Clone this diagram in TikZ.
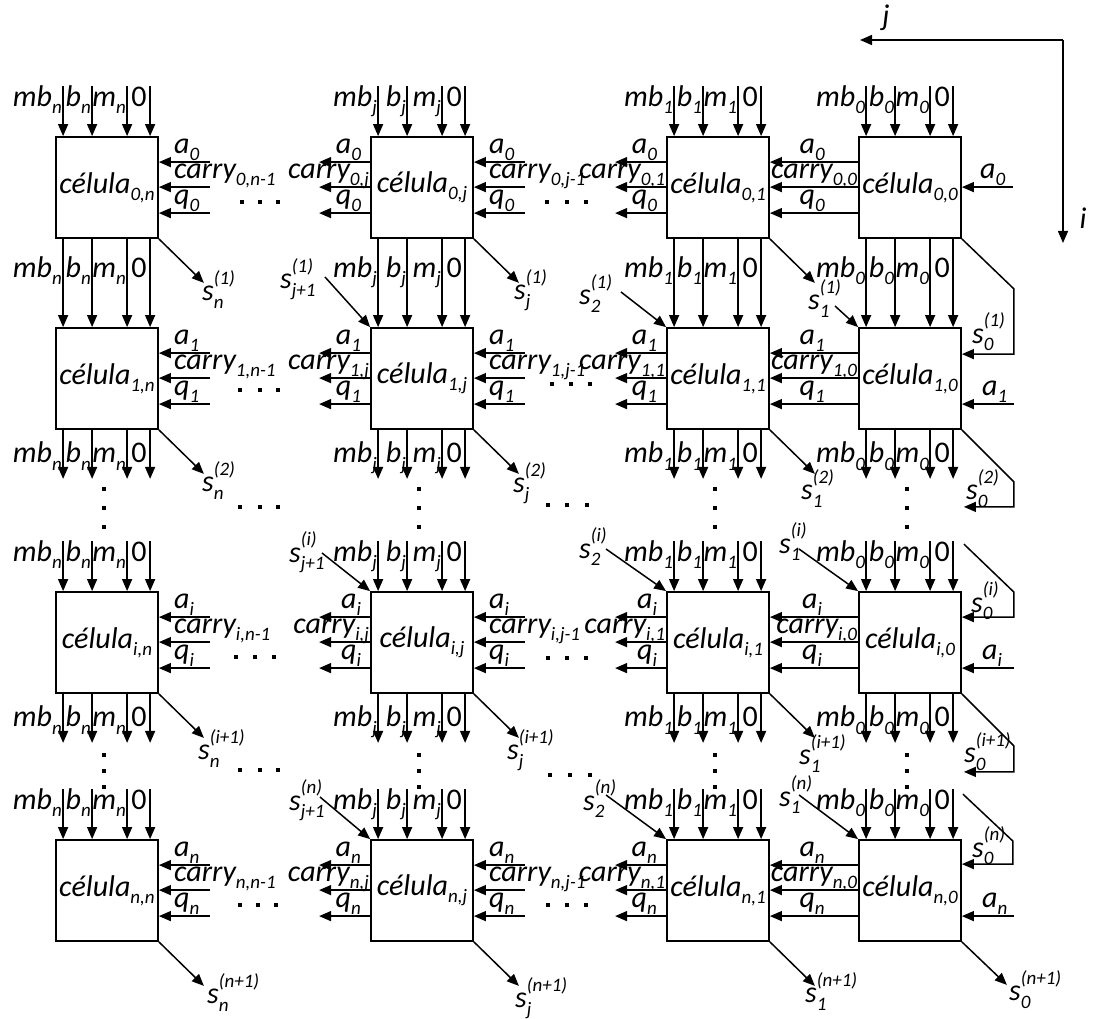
\documentclass[tikz,border=0pt]{standalone}
\usepackage{fontspec}
\setmainfont{Carlito}
\usetikzlibrary{arrows.meta,calc}
\newcommand\mySb[1]{\raisebox{-0.24em}{\fontsize{19}{19}\selectfont\itshape #1}}
\newcommand\mySp[1]{\raisebox{0.55em}{\fontsize{19}{19}\selectfont\itshape #1}}
\newcommand\Vl[2]{{\itshape #1}\mySb{#2}}
\newcommand\Ssub[3]{{\itshape #1}\setbox0\hbox{\mySp{#3}}\setbox2\hbox{\mySb{#2}}\ifdim\wd0>\wd2 \rlap{\box2}\box0 \else\rlap{\box0}\box2 \fi}
\newcommand\Labs[5]{%
  \node[le] (#5a) at ([shift={(7,#3)}]#1.#2) {\Vl{mb}{#4}};
  \node[le] (#5b) at ([shift={(36,#3)}]#1.#2) {\Vl{b}{#4}};
  \node[le] (#5c) at ([shift={(71,#3)}]#1.#2) {\Vl{m}{#4}};
  \node[lb] (#5d) at ([shift={(84,#3)}]#1.#2) {0};}
\begin{document}
\begin{tikzpicture}[x=1pt,y=1pt,
  font=\fontsize{30}{32}\selectfont,
  box/.style={draw,line width=1.8pt,minimum width=102pt,minimum height=101pt,inner sep=0pt},
  arr/.style={line width=1.5pt,-{Triangle[length=12pt,width=10pt]}},
  lw/.style={anchor=base west,inner sep=0pt},
  le/.style={anchor=base east,inner sep=0pt},
  lb/.style={anchor=base,inner sep=0pt},
  dt/.style={fill,rectangle,minimum size=4.5pt,inner sep=0pt}]
\useasboundingbox (0,0) rectangle (1093,-1019);

% cells
\foreach \TT/\rr in {137/0,328/1,592/i,840/n}{
  \foreach \LL/\cc in {56/n,371/j,667/1,859/0}{
    \node[box] (C\rr\cc) at (\LL+51,-\TT-50.5) {\itshape célula\mySb{\rr,\cc}};
  }
}

% top arrows rows 0,i,n
\foreach \rr in {0,i,n}{\foreach \cc in {n,j,1,0}{
  \foreach \dx in {8,37,72,95}{
    \draw[arr] ([shift={(\dx,50)}]C\rr\cc.north west) -- ([xshift=\dx]C\rr\cc.north west);}
  \Labs{C\rr\cc}{north west}{30}{\cc}{T\rr\cc}}}

% row 0 -> row 1
\foreach \cc in {n,j,1,0}{
  \foreach \dx in {8,37,72,95}{
    \draw[arr] ([xshift=\dx]C0\cc.south west) -- ([xshift=\dx]C1\cc.north west);}
  \Labs{C1\cc}{north west}{50}{\cc}{M\cc}}

% bottoms rows 1,i
\foreach \rr in {1,i}{\foreach \cc in {n,j,1,0}{
  \foreach \dx in {8,37,72,95}{
    \draw[arr] ([xshift=\dx]C\rr\cc.south west) -- ([shift={(\dx,-49)}]C\rr\cc.south west);}
  \Labs{C\rr\cc}{south west}{-33}{\cc}{B\rr\cc}}}

% right inputs cols n,j
\foreach \rr in {0,1,i,n}{\foreach \cc/\cm in {n/n-1,j/j-1}{
  \foreach \dy in {26,51,77}{
    \draw[arr] ([shift={(51,-\dy)}]C\rr\cc.north east) -- ([yshift=-\dy]C\rr\cc.north east);}
  \node[lw] (RA\rr\cc) at ([shift={(15,-17)}]C\rr\cc.north east) {\Vl{a}{\rr}};
  \node[lw] (RC\rr\cc) at ([shift={(15,-42)}]C\rr\cc.north east) {\Vl{carry}{\rr,\cm}};
  \node[lw] (RQ\rr\cc) at ([shift={(15,-68)}]C\rr\cc.north east) {\Vl{q}{\rr}};
}}

% left outputs cols j,1
\foreach \rr in {0,1,i,n}{\foreach \cc in {j,1}{
  \foreach \dy in {26,51,77}{
    \draw[arr] ([yshift=-\dy]C\rr\cc.north west) -- ([shift={(-51,-\dy)}]C\rr\cc.north west);}
  \node[le] (LA\rr\cc) at ([shift={(-9,-17)}]C\rr\cc.north west) {\Vl{a}{\rr}};
  \node[le] (LC\rr\cc) at ([shift={(-1,-42)}]C\rr\cc.north west) {\Vl{carry}{\rr,\cc}};
  \node[le] (LQ\rr\cc) at ([shift={(-9,-68)}]C\rr\cc.north west) {\Vl{q}{\rr}};
}}

% col 0 -> col 1
\foreach \rr in {0,1,i,n}{
  \foreach \dy in {26,51,77}{
    \draw[arr] ([yshift=-\dy]C\rr0.north west) -- ([yshift=-\dy]C\rr1.north east);}
  \node[lb] (ZA\rr) at ([shift={(-46,-17)}]C\rr0.north west) {\Vl{a}{\rr}};
  \node[le] (ZC\rr) at ([shift={(-1,-42)}]C\rr0.north west) {\Vl{carry}{\rr,0}};
  \node[lb] (ZQ\rr) at ([shift={(-46,-68)}]C\rr0.north west) {\Vl{q}{\rr}};
}

% col 0 right a inputs
\draw[arr] ([shift={(51,-51)}]C00.north east) -- ([yshift=-51]C00.north east);
\node[lw] (A00) at ([shift={(18,-42)}]C00.north east) {\Vl{a}{0}};
\foreach \rr in {1,i,n}{
  \draw[arr] ([shift={(52,-77)}]C\rr0.north east) -- ([yshift=-77]C\rr0.north east);
  \node[lw] (A\rr0) at ([shift={(20,-68)}]C\rr0.north east) {\Vl{a}{\rr}};}

% diagonal outputs
\foreach \rr/\cc/\sp/\ox/\oy in {0/n/{(1)}/-2/-18, 0/j/{(1)}/-5/-17, 0/1/{(1)}/-7/-27,
  1/n/{(2)}/-2/-18, 1/j/{(2)}/-6/-19, 1/1/{(2)}/-14/-26,
  i/n/{(i+1)}/-6/-22, i/j/{(i+1)}/-12/-22, i/1/{(i+1)}/-16/-27,
  n/n/{(n+1)}/3/-18, n/j/{(n+1)}/-4/-22, n/1/{(n+1)}/-10/-17}{
  \draw[arr] (C\rr\cc.south east) -- ++(45,-44) coordinate (D\rr\cc);
  \node[lw] (S\rr\cc) at ([shift={(\ox,\oy)}]D\rr\cc) {\Ssub{s}{\cc}{\sp}};}
\draw[arr] (Cn0.south east) -- ++(45,-43) coordinate (Dn0);
\node[lw] (Sn0) at ([shift={(2,-16)}]Dn0) {\Ssub{s}{0}{(n+1)}};

% loops at column 0
\draw[arr] (C00.south east) -- ++(52,-50) |- ([yshift=-27]C10.north east);
\node[lw] (L1) at ([shift={(10,-16)}]C10.north east) {\Ssub{s}{0}{(1)}};
\draw[arr] (C10.south east) -- ++(52,-52) -- ++(0,-25) -- ++(-50,0) coordinate (E1);
\node[lw] (L2) at ([shift={(4,-70)}]C10.south east) {\Ssub{s}{0}{(2)}};
\draw[arr] ([shift={(2,47)}]Ci0.north east) -- ++(50,-48) |- ([yshift=-26]Ci0.north east);
\node[lw] (L3) at ([shift={(9,-21)}]Ci0.north east) {\Ssub{s}{0}{(i)}};
\draw[arr] (Ci0.south east) -- ++(52,-52) -- ++(0,-26) -- ++(-50,0) coordinate (E2);
\node[lw] (L4) at ([shift={(2,-69)}]Ci0.south east) {\Ssub{s}{0}{(i+1)}};
\draw[arr] ([shift={(1,45)}]Cn0.north east) -- ++(50,-47) |- ([yshift=-25]Cn0.north east);
\node[lw] (L5) at ([shift={(10,-18)}]Cn0.north east) {\Ssub{s}{0}{(n)}};

% incoming diagonals (s_1^(1) shares the label of the output above)
\coordinate (P10) at (835,-306);
\draw[arr] (P10) -- (C10.north west);
\foreach \nm/\x/\y/\lx/\ly/\sb/\sp in {
  1j/325/277/280/289/j+1/{(1)}, 11/621/292/579/305/2/{(1)},
  ij/322/553/289/562/j+1/{(i)}, i1/606/549/579/558/2/{(i)}, i0/799/549/779/553/1/{(i)},
  nj/320/797/289/810/j+1/{(n)}, n1/606/795/583/810/2/{(n)}, n0/799/795/779/806/1/{(n)}}{
  \coordinate (P\nm) at (\x,-\y);
  \draw[arr] (P\nm) -- (C\nm.north west);
  \node[lw] (Q\nm) at (\lx,-\ly) {\Ssub{s}{\sb}{\sp}};
}

% vertical dots
\foreach \LL in {56,371,667,859}{
  \foreach \y in {489,508,527,755,771,787}{
    \node[dt] at (\LL+48,-\y) {};}}
% horizontal dots
\foreach \x/\y in {242/202,260/202,278/202,547/202,567/202,586/202,
  240/390,260/390,278/390,552/384,571/384,590/384,
  240/507,260/507,278/507,548/505,567/505,587/505,
  236/657,255/657,274/657,548/658,567/658,586/658,
  240/770,260/770,278/770,550/775,570/775,590/775,
  240/905,258/905,276/905,548/905,567/905,586/905}{
  \node[dt] at (\x,-\y) {};}

% axes
\coordinate (ax) at (1063,-40);
\coordinate (axj) at (860,-40);
\coordinate (axi) at (1063,-243);
\draw[arr] (ax) -- (axj);
\draw[arr] (ax) -- (axi);
\node (lj) at (886,-18) {\itshape j};
\node (li) at (1083,-218) {\itshape i};
\end{tikzpicture}
\end{document}
